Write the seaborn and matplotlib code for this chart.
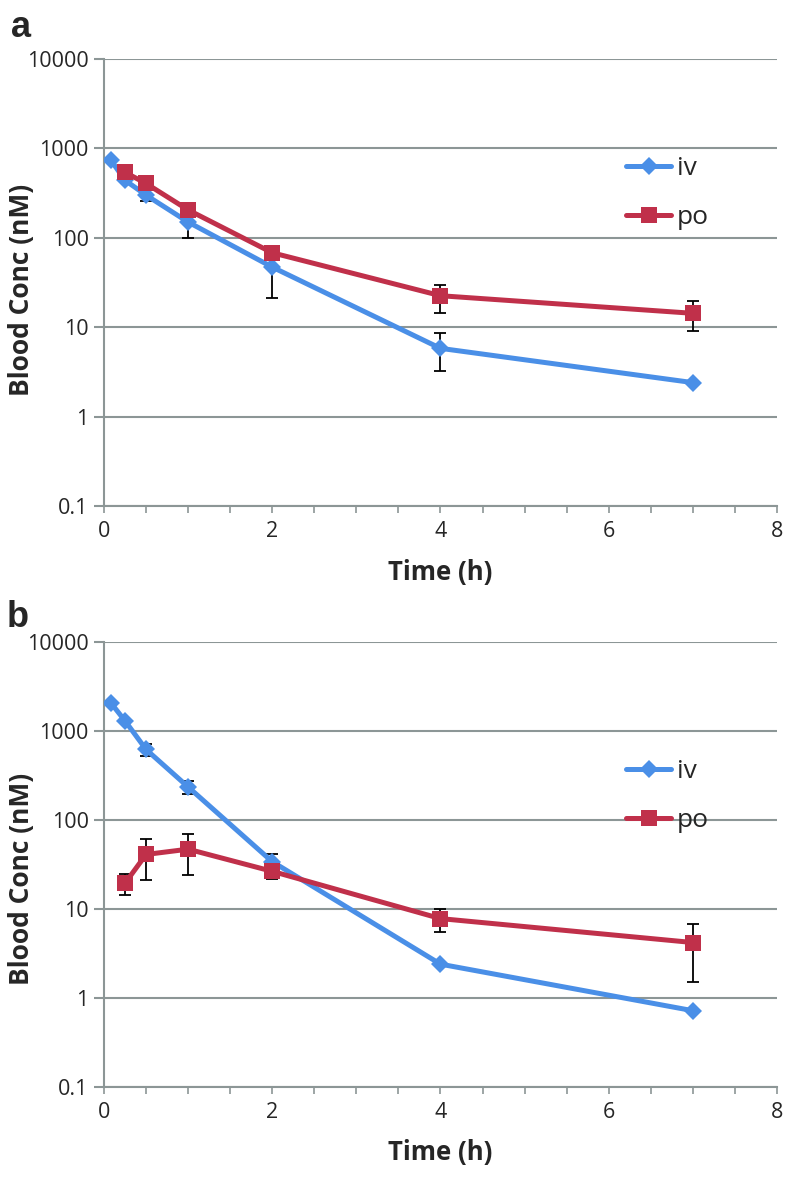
import numpy as np
import pandas as pd
import matplotlib
matplotlib.use("Agg")
import matplotlib.pyplot as plt
from matplotlib.ticker import FixedLocator, NullLocator, FuncFormatter
import seaborn as sns

# Data
time_iv = [0.083, 0.25, 0.5, 1, 2, 4, 7]
time_po = [0.25, 0.5, 1, 2, 4, 7]

# panel a
a_iv = [735, 440, 300, 150, 47, 5.8, 2.4]
a_iv_lo = [0, 0, 40, 50, 26, 2.6, 0]
a_iv_hi = [0, 0, 40, 50, 26, 2.8, 0]
a_po = [540, 405, 205, 68, 22.5, 14.3]
a_po_lo = [0, 0, 0, 0, 8, 5.3]
a_po_hi = [0, 0, 0, 0, 7.5, 5.2]

# panel b
b_iv = [2060, 1300, 620, 235, 34, 2.4, 0.72]
b_iv_lo = [0, 0, 100, 40, 5, 0, 0]
b_iv_hi = [0, 0, 100, 40, 7, 0, 0]
b_po = [19.5, 41, 47, 26.5, 7.8, 4.2]
b_po_lo = [5, 20, 23, 5, 2.3, 2.7]
b_po_hi = [5.5, 20, 23, 5, 2.2, 2.6]

blue = "#4a8fe7"
red = "#c0304a"
grid_col = "#8c9696"

sns.set_style("white")
plt.rcParams['font.family'] = ['Open Sans', 'DejaVu Sans']

fig = plt.figure(figsize=(7.86, 11.77), dpi=100)
ax_a = fig.add_axes([104 / 786, 1 - 506 / 1177, 673 / 786, 447 / 1177])
ax_b = fig.add_axes([104 / 786, 1 - 1087 / 1177, 673 / 786, 445 / 1177])


def draw_panel(ax, iv, iv_lo, iv_hi, po, po_lo, po_hi, leg_y, ylab_y):
    df = pd.DataFrame({
        "Time": time_iv + time_po,
        "Conc": iv + po,
        "route": ["iv"] * len(iv) + ["po"] * len(po),
    })
    sns.lineplot(data=df, x="Time", y="Conc", hue="route", style="route",
                 palette={"iv": blue, "po": red},
                 markers={"iv": "D", "po": "s"}, dashes=False,
                 linewidth=3.6, ax=ax, zorder=3, legend=False)
    for line, ms in zip(ax.get_lines(), [9, 12]):
        line.set_markersize(ms)
        line.set_markeredgewidth(0)
    ax.errorbar(time_iv, iv, yerr=[iv_lo, iv_hi], fmt="none", ecolor="black",
                elinewidth=1.3, capsize=4, capthick=1.3, zorder=2)
    ax.errorbar(time_po, po, yerr=[po_lo, po_hi], fmt="none", ecolor="black",
                elinewidth=1.3, capsize=4, capthick=1.3, zorder=2)

    ax.set_yscale("log")
    ax.set_ylim(0.1, 10000)
    ax.set_xlim(0, 8)
    ax.yaxis.set_major_locator(FixedLocator([0.1, 1, 10, 100, 1000, 10000]))
    ax.yaxis.set_minor_locator(NullLocator())
    ax.yaxis.set_major_formatter(FuncFormatter(lambda v, p: f"{v:g}"))
    ax.set_xticks([0, 2, 4, 6, 8])
    ax.set_xticks(np.arange(0, 8.01, 0.5), minor=True)
    ax.grid(axis="y", color=grid_col, linewidth=1.5)
    ax.set_axisbelow(True)
    for side in ["top", "right"]:
        ax.spines[side].set_visible(False)
    for side in ["left", "bottom"]:
        ax.spines[side].set_color(grid_col)
        ax.spines[side].set_linewidth(1.5)
    ax.tick_params(axis="y", which="major", left=True, length=7, width=1.5,
                   color=grid_col, labelsize=15.5, pad=4)
    ax.tick_params(axis="x", which="both", bottom=True, length=5, width=1.2,
                   color=grid_col, labelsize=15.5, pad=6)
    ax.set_xlabel("Time (h)", fontsize=18.5, fontweight="bold", va="center")
    ax.set_ylabel("Blood Conc (nM)", fontsize=19, fontweight="bold", va="center")
    ax.xaxis.set_label_coords(0.5, -0.148)
    ax.yaxis.set_label_coords(-0.123, ylab_y)

    handles = ax.get_lines()[:2]
    ax.legend(handles, ["iv", "po"], loc="center left",
              bbox_to_anchor=(0.74, leg_y), frameon=False, fontsize=19,
              handlelength=1.73, labelspacing=0.9, handletextpad=0.2)


draw_panel(ax_a, a_iv, a_iv_lo, a_iv_hi, a_po, a_po_lo, a_po_hi, 0.700, 0.483)
draw_panel(ax_b, b_iv, b_iv_lo, b_iv_hi, b_po, b_po_lo, b_po_hi, 0.654, 0.467)

fig.text(11 / 786, 1 - 37 / 1177, "a", fontsize=26, fontweight="bold",
         va="baseline", ha="left", family="Liberation Sans")
fig.text(7 / 786, 1 - 627 / 1177, "b", fontsize=26, fontweight="bold",
         va="baseline", ha="left", family="Liberation Sans")

fig.savefig("out.png", dpi=100)
